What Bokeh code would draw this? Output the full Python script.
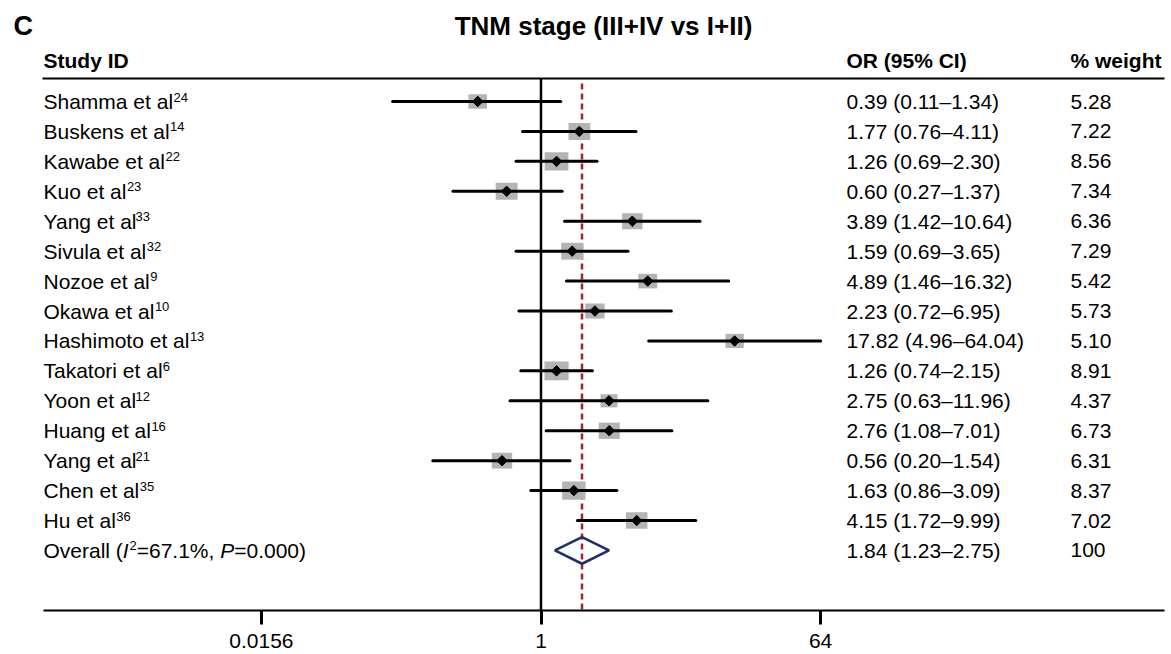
import math
from bokeh.plotting import figure
from bokeh.models import Range1d, FixedTicker, Label
from bokeh.embed import file_html
from bokeh.resources import INLINE

# ---------------- data ----------------
studies = ["Shamma et al", "Buskens et al", "Kawabe et al", "Kuo et al", "Yang et al",
           "Sivula et al", "Nozoe et al", "Okawa et al", "Hashimoto et al", "Takatori et al",
           "Yoon et al", "Huang et al", "Yang et al", "Chen et al", "Hu et al"]
refs = ["24", "14", "22", "23", "33", "32", "9", "10", "13", "6", "12", "16", "21", "35", "36"]
or_est = [0.39, 1.77, 1.26, 0.60, 3.89, 1.59, 4.89, 2.23, 17.82, 1.26, 2.75, 2.76, 0.56, 1.63, 4.15]
ci_lo = [0.11, 0.76, 0.69, 0.27, 1.42, 0.69, 1.46, 0.72, 4.96, 0.74, 0.63, 1.08, 0.20, 0.86, 1.72]
ci_hi = [1.34, 4.11, 2.30, 1.37, 10.64, 3.65, 16.32, 6.95, 64.04, 2.15, 11.96, 7.01, 1.54, 3.09, 9.99]
weights = [5.28, 7.22, 8.56, 7.34, 6.36, 7.29, 5.42, 5.73, 5.10, 8.91, 4.37, 6.73, 6.31, 8.37, 7.02]
overall_or = 1.84
overall_lo = 1.23
overall_hi = 2.75
overall_weight = "100"
overall_i2 = "67.1%"
overall_p = "0.000"
tick_values = [2 ** -6, 1, 64]
tick_labels = ["0.0156", "1", "64"]
title_text = "TNM stage (III+IV vs I+II)"
panel_letter = "C"
headers = ["Study ID", "OR (95% CI)", "% weight"]

# ---------------- layout (pixels from the left/top of the plot area) ----------------
FONT = "Liberation Sans"
FS = 21
SUP_FS = 13
FIG_W = 1168
FIG_H = 654
PX_PER_DOUBLING = 46.6
NULL_PX = 540.5           # where OR = 1 sits
TABLE_LEFT = 43
TABLE_RIGHT = 1164
COL_OR = 846
COL_W = 1070
ROW0_PX = 101
ROW_PX = 29.93
AXIS_PX = 610

AW = {' ': 278, 'a': 556, 'b': 556, 'c': 500, 'd': 556, 'e': 556, 'g': 556, 'h': 556, 'i': 222,
      'k': 500, 'l': 222, 'm': 833, 'n': 556, 'o': 556, 'r': 333, 's': 500, 't': 278, 'u': 556,
      'v': 500, 'w': 722, 'y': 500, 'z': 500, 'S': 667, 'B': 667, 'K': 667, 'Y': 667, 'N': 722,
      'O': 778, 'H': 722, 'T': 611, 'C': 722, 'P': 667, 'I': 278, '(': 333, ')': 333, '=': 584,
      '%': 889, ',': 278, '.': 278}
for d in "0123456789":
    AW[d] = 556
KERN = {('Y', 'a'): -140, ('Y', 'o'): -140, ('T', 'a'): -120}


def tw(s, px):
    total = sum(AW.get(c, 556) for c in s)
    total += sum(KERN.get((a, b), 0) for a, b in zip(s, s[1:]))
    return total / 1000.0 * px


def px_to_x(px):
    return 2 ** ((px - NULL_PX) / PX_PER_DOUBLING)


def px_to_y(py):
    return (ROW0_PX - py) / ROW_PX


n = len(studies)
rows = [-i for i in range(n)]
overall_row = -n

x_start = px_to_x(0)
x_end = px_to_x(FIG_W)
y_start = px_to_y(AXIS_PX)
y_end = px_to_y(0)

p = figure(width=FIG_W, height=FIG_H, x_axis_type="log",
           x_range=Range1d(x_start, x_end), y_range=Range1d(y_start, y_end),
           toolbar_location=None, output_backend="svg", y_axis_location=None,
           min_border_left=0, min_border_right=0, min_border_top=0,
           min_border_bottom=FIG_H - AXIS_PX)
p.xgrid.visible = False
p.ygrid.visible = False
p.outline_line_color = None
p.background_fill_color = "white"
p.border_fill_color = "white"

ax = p.xaxis[0]
ax.ticker = FixedTicker(ticks=tick_values)
ax.major_label_overrides = {v: t for v, t in zip(tick_values, tick_labels)}
ax.bounds = (px_to_x(TABLE_LEFT), px_to_x(TABLE_RIGHT))
ax.axis_line_width = 2
ax.axis_line_color = "black"
ax.major_tick_line_width = 3
ax.major_tick_line_color = "black"
ax.major_tick_out = 14
ax.major_tick_in = 0
ax.minor_tick_line_color = None
ax.major_label_standoff = 9
ax.major_label_text_font = FONT
ax.major_label_text_font_size = f"{FS}px"
ax.major_label_text_color = "black"

header_rule_y = px_to_y(78)

# header rule
p.segment(x0=[px_to_x(TABLE_LEFT - 1)], y0=[header_rule_y], x1=[px_to_x(TABLE_RIGHT)],
          y1=[header_rule_y], line_color="black", line_width=2)

# null line and overall line
p.segment(x0=[1], y0=[header_rule_y], x1=[1], y1=[y_start], line_color="black", line_width=2.5)
p.segment(x0=[overall_or], y0=[px_to_y(83)], x1=[overall_or], y1=[y_start],
          line_color="#a3242c", line_width=2.5, line_dash="6 4")

# weight boxes
sw = [8.1 * math.sqrt(w) for w in weights]
sh = [6.3 * math.sqrt(w) for w in weights]
p.rect(x=or_est, y=rows, width=sw, height=sh, width_units="screen", height_units="screen",
       fill_color="#b4b4b4", line_color=None)

# confidence intervals
p.segment(x0=ci_lo, y0=rows, x1=ci_hi, y1=rows, line_color="black", line_width=3,
          line_cap="round")

# point estimates
p.scatter(x=or_est, y=rows, marker="square", angle=math.pi / 4, size=7.4,
          fill_color="black", line_color="black")

# overall diamond
p.patch(x=[overall_lo, overall_or, overall_hi, overall_or],
        y=[overall_row, overall_row + 0.445, overall_row, overall_row - 0.445],
        fill_color=None, line_color="#1f2f6b", line_width=2.6)


def add_text(txt, x, y, size=FS, style="normal", align="left", y_offset=0):
    p.add_layout(Label(x=x, y=y, x_units="screen", y_units="data", text=txt,
                       text_font=FONT, text_font_size=f"{size}px", text_font_style=style,
                       text_align=align, text_baseline="middle", y_offset=y_offset,
                       text_color="black"))


add_text(panel_letter, 13, px_to_y(25), size=27, style="bold")
add_text(title_text, 603, px_to_y(25), size=26, style="bold", align="center")
add_text(headers[0], TABLE_LEFT, px_to_y(60), style="bold")
add_text(headers[1], COL_OR, px_to_y(60), style="bold")
add_text(headers[2], COL_W, px_to_y(60), style="bold")

for name, ref, y, o, lo, hi, w in zip(studies, refs, rows, or_est, ci_lo, ci_hi, weights):
    add_text(name, TABLE_LEFT, y)
    add_text(ref, TABLE_LEFT + tw(name, FS) + 0.5, y, size=SUP_FS, y_offset=4.5)
    add_text(f"{o:.2f} ({lo:.2f}\u2013{hi:.2f})", COL_OR, y)
    add_text(f"{w:.2f}", COL_W, y)

# overall row label with italic I and P
xpos = TABLE_LEFT
piece = "Overall ("
add_text(piece, xpos, overall_row)
xpos += tw(piece, FS)
add_text("I", xpos, overall_row, style="italic")
xpos += tw("I", FS) + 0.8
add_text("2", xpos, overall_row, size=SUP_FS, y_offset=4.5)
xpos += tw("2", SUP_FS)
piece = f"={overall_i2}, "
add_text(piece, xpos, overall_row)
xpos += tw(piece, FS)
add_text("P", xpos, overall_row, style="italic")
xpos += tw("P", FS)
add_text(f"={overall_p})", xpos, overall_row)

add_text(f"{overall_or:.2f} ({overall_lo:.2f}\u2013{overall_hi:.2f})", COL_OR, overall_row)
add_text(overall_weight, COL_W, overall_row)

open("out.html", "w").write(file_html(p, INLINE))
